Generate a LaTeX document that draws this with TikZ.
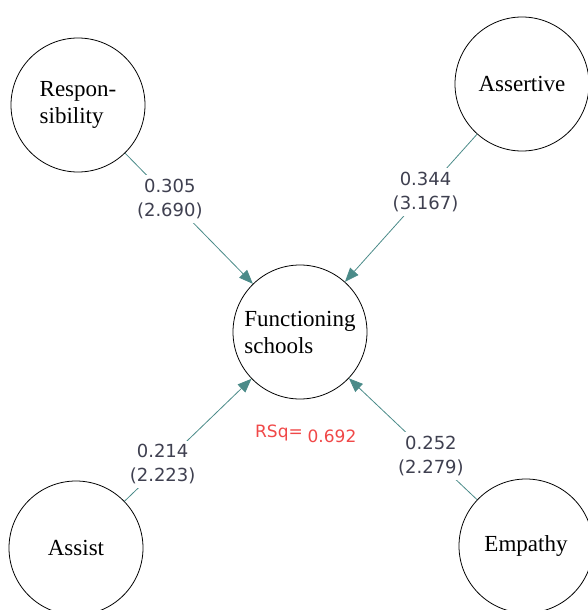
\documentclass[tikz,border=0pt]{standalone}
\usepackage{fontspec}
\setmainfont{Liberation Serif}
\newfontfamily\coeffont{DejaVu Sans}
\usetikzlibrary{arrows.meta, positioning}

\definecolor{pathteal}{HTML}{4B8B89}
\definecolor{coefgray}{HTML}{3F4050}
\definecolor{rsqred}{HTML}{F04848}

\begin{document}
\begin{tikzpicture}[x=1pt, y=1pt, on grid,
        latent/.style={circle, draw, line width=0.8pt, minimum size=134pt, inner sep=0pt,
            align=left, font=\fontsize{23}{27}\selectfont},
        coef/.style={fill=white, inner sep=4pt, align=center, text=coefgray,
            font=\coeffont\fontsize{18}{24}\selectfont},
        rsq/.style={text=rsqred, inner sep=0pt, font=\coeffont\fontsize{17}{20}\selectfont},
        effect/.style={color=pathteal, line width=0.8pt, -{Triangle[length=14pt, width=11pt]}}]
    \clip (0,0) rectangle (588,-610);
    \node[latent] (fs) at (300,-332) {Functioning\\schools};
    \node[latent] (resp) [above left=227pt and 222pt of fs] {Respon-\\sibility};
    \node[latent] (asse) [above right=248pt and 222pt of fs] {Assertive};
    \node[latent] (assi) [below left=216pt and 224pt of fs] {Assist};
    \node[latent] (empa) [below right=214pt and 226pt of fs] {Empathy};

    \node[rsq] (rsqlab) [below left=101pt and 21pt of fs] {RSq=};
    \node[rsq] (rsqval) [right=53pt of rsqlab, yshift=-3pt] {0.692};

    \path[effect]
        (resp) edge node[coef, pos=0.35] {0.305\\(2.690)} (fs)
        (asse) edge node[coef, pos=0.39] {0.344\\(3.167)} (fs)
        (assi) edge node[coef, pos=0.3] {0.214\\(2.223)} (fs)
        (empa) edge node[coef, pos=0.36] {0.252\\(2.279)} (fs);
\end{tikzpicture}
\end{document}
